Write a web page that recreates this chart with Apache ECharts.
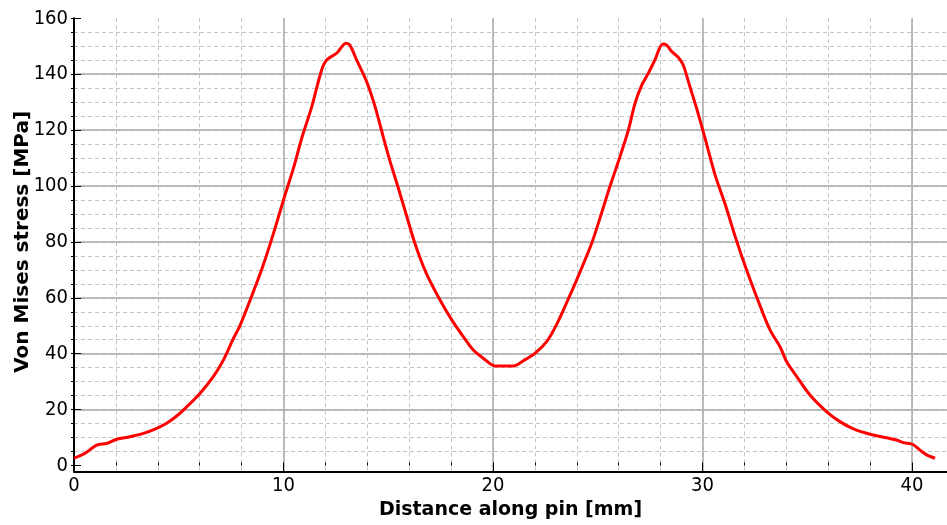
<!DOCTYPE html>
<html>
<head>
<meta charset="utf-8">
<script src="https://cdn.jsdelivr.net/npm/echarts@6/dist/echarts.min.js"></script>
<style>
html,body{margin:0;padding:0;background:#fff;}
#chart{width:947px;height:525px;}
</style>
</head>
<body>
<div id="chart"></div>
<script>
// Distance along pin [mm]
var distance = [0, 0.53, 1.08, 1.56, 2.04, 2.67, 3.31, 3.95, 4.42, 4.90, 5.38, 6.01, 6.65, 7.13, 7.60, 7.92, 8.5, 9.0, 9.5, 10.0, 10.5, 10.87, 11.35, 11.82, 12.06, 12.54, 12.98, 13.17, 13.49, 13.97, 14.37, 14.76, 15.04, 15.45, 15.85, 16.25, 16.8, 17.47, 18.03, 18.58, 19.06, 19.53, 20.10, 20.97, 21.45, 22.0, 22.56, 23.04, 23.59, 24.0, 24.71, 25.19, 25.58, 26.06, 26.46, 26.78, 27.1, 27.41, 27.73, 28.1, 28.29, 28.53, 28.85, 29.08, 29.40, 29.72, 30.12, 30.6, 31.1, 31.6, 32.1, 32.6, 33.22, 33.70, 34.02, 34.50, 35.13, 35.93, 36.56, 37.20, 38.0, 38.79, 39.27, 39.59, 40.03, 40.38, 40.70, 41.10];
// Von Mises stress [MPa]
var stress = [2.6, 4.4, 7.3, 7.9, 9.4, 10.3, 11.5, 13.3, 15.1, 17.7, 21.0, 25.8, 31.8, 37.7, 45.3, 50.0, 61, 71, 82.5, 95, 107, 117.1, 128.4, 141.5, 145.1, 147.5, 151.1, 150.4, 145.1, 137.3, 128.4, 117.6, 110, 100, 90, 80, 69, 59.2, 52.1, 46.1, 41.3, 38.4, 35.6, 35.6, 37.5, 40.1, 44.3, 50.5, 59.5, 66.5, 79.5, 90.5, 99.8, 110.5, 120.0, 129.6, 136.1, 140.3, 145.1, 150.8, 150.4, 148.1, 146.0, 143.3, 135.5, 127.8, 117.1, 104, 93, 81, 70, 60, 48.5, 42.5, 37.1, 31.8, 25.2, 19.2, 15.7, 13.1, 11.2, 9.9, 9.1, 8.2, 7.6, 5.5, 3.8, 2.6];

var xTickLabels = [0, 10, 20, 30, 40];
var yTickLabels = [0, 20, 40, 60, 80, 100, 120, 140, 160];

var xMax = 41.67;
var yMinAxis = -2.2;
var tickFont = '"DejaVu Sans Condensed", "DejaVu Sans", sans-serif';
var titleFont = '"DejaVu Sans", sans-serif';

var pts = distance.map(function (d, i) { return [d, stress[i]]; });

var chart = echarts.init(document.getElementById('chart'), null, {renderer: 'canvas'});
chart.setOption({
  animation: false,
  backgroundColor: '#ffffff',
  grid: [
    {left: 74, right: 0, top: 18.3, bottom: 53.3},
    {left: 74, right: 0, top: 18.3, bottom: 59.5}
  ],
  xAxis: [
    { // minor vertical dashed grid
      type: 'value', gridIndex: 0, position: 'bottom', offset: 0,
      min: 0, max: xMax, interval: 2,
      axisLine: {show: false},
      axisTick: {show: true, inside: true, length: 3, lineStyle: {color: '#000', width: 1}},
      axisLabel: {show: false},
      splitLine: {show: true, showMinLine: false, showMaxLine: false, lineStyle: {color: '#c4c4c4', width: 1, type: [4, 3]}}
    },
    { // major vertical grid + axis + labels
      type: 'value', gridIndex: 0, position: 'bottom', offset: 0,
      min: 0, max: xMax, interval: 10,
      name: 'Distance along pin [mm]', nameLocation: 'middle', nameGap: 26,
      nameTextStyle: {fontFamily: titleFont, fontWeight: 'bold', fontSize: 19, color: '#000'},
      axisLine: {show: true, onZero: false, lineStyle: {color: '#000', width: 2}},
      axisTick: {show: true, inside: true, length: 7, lineStyle: {color: '#000', width: 1}},
      axisLabel: {
        show: true, margin: 4, showMaxLabel: false,
        fontFamily: tickFont, fontSize: 20, color: '#000',
        formatter: function (v) { return xTickLabels.indexOf(v) >= 0 ? String(v) : ''; }
      },
      splitLine: {show: true, showMinLine: false, showMaxLine: false, lineStyle: {color: '#a8a8a8', width: 1.5}}
    },
    { // data x axis in grid 1
      type: 'value', gridIndex: 1, min: 0, max: xMax, show: false
    }
  ],
  yAxis: [
    { // y axis line spanning the full plot (grid 0)
      type: 'value', gridIndex: 0, min: yMinAxis, max: 160,
      axisLine: {show: true, onZero: false, lineStyle: {color: '#000', width: 2}},
      axisTick: {show: false}, axisLabel: {show: false}, splitLine: {show: false}
    },
    { // minor horizontal dashed grid
      type: 'value', gridIndex: 1, position: 'left', offset: 0,
      min: 0, max: 160, interval: 5,
      axisLine: {show: false},
      axisTick: {show: true, inside: false, length: 3, lineStyle: {color: '#000', width: 1}},
      axisLabel: {show: false},
      splitLine: {show: true, showMinLine: false, showMaxLine: false, lineStyle: {color: '#c4c4c4', width: 1, type: [4, 3]}}
    },
    { // major horizontal grid + labels
      type: 'value', gridIndex: 1, position: 'left', offset: 0,
      min: 0, max: 160, interval: 20,
      name: 'Von Mises stress [MPa]', nameLocation: 'middle', nameGap: 41, nameRotate: 90,
      nameMoveOverlap: false,
      nameTextStyle: {fontFamily: titleFont, fontWeight: 'bold', fontSize: 20, color: '#000'},
      axisLine: {show: false},
      axisTick: {show: true, inside: true, length: 7, lineStyle: {color: '#000', width: 1}},
      axisLabel: {
        show: true, margin: 6, fontFamily: tickFont, fontSize: 20, color: '#000',
        formatter: function (v) { return yTickLabels.indexOf(v) >= 0 ? String(v) : ''; }
      },
      splitLine: {show: true, showMinLine: false, showMaxLine: false, lineStyle: {color: '#a8a8a8', width: 1.5}}
    }
  ],
  series: [{
    type: 'line',
    xAxisIndex: 2, yAxisIndex: 2,
    data: pts,
    showSymbol: false,
    smooth: 0.3,
    lineStyle: {color: '#ff0000', width: 3},
    z: 5
  }]
});
</script>
</body>
</html>
